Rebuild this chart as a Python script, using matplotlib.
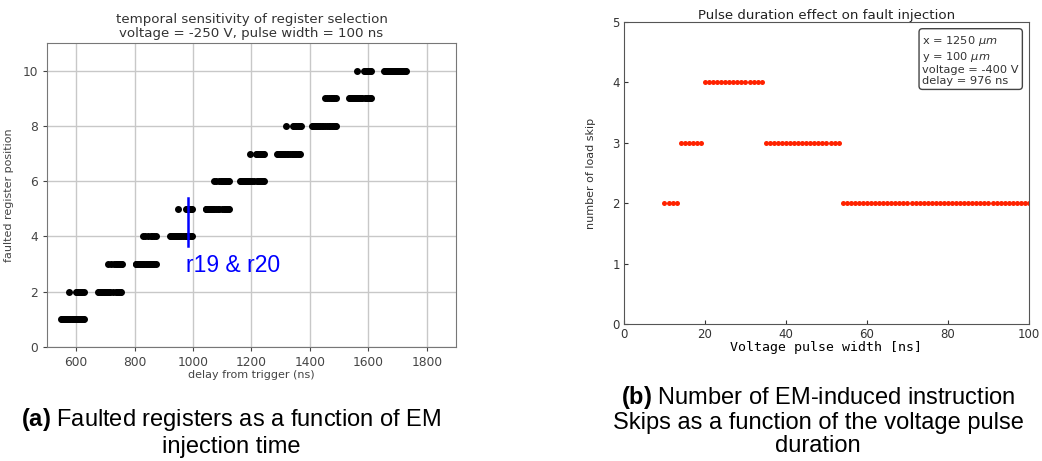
import numpy as np
import matplotlib
matplotlib.use("Agg")
import matplotlib.pyplot as plt

plt.rcParams['font.family'] = ['DejaVu Sans']
plt.rcParams['mathtext.fontset'] = 'custom'
plt.rcParams['mathtext.rm'] = 'Liberation Sans'
plt.rcParams['mathtext.bf'] = 'Liberation Sans:bold'
plt.rcParams['mathtext.it'] = 'DejaVu Sans:italic'

# (a) delay from trigger (ns) for each faulted register position
delays = {
    1: [548, 551, 554, 557, 560, 563, 566, 569, 572, 575, 578, 586, 589, 592, 595,
        598, 601, 604, 607, 610, 613, 616, 619, 622, 626],
    2: [574, 600, 603, 606, 609, 612, 615, 618, 621, 625, 676, 679, 682, 685, 688,
        691, 694, 697, 700, 703, 706, 709, 712, 716, 726, 737, 741, 744, 747, 750, 754],
    3: [709, 718, 728, 737, 740, 743, 746, 749, 752, 756, 803, 806, 809, 812, 815,
        818, 821, 824, 827, 832, 838, 843, 846, 849, 852, 855, 858, 861, 864, 868, 872],
    4: [827, 836, 846, 855, 860, 866, 872, 922, 925, 928, 931, 934, 937, 940, 944,
        948, 952, 956, 960, 966, 972, 975, 980, 986, 992, 998],
    5: [949, 975, 978, 981, 984, 988, 992, 996, 1043, 1046, 1049, 1052, 1055, 1058,
        1061, 1064, 1067, 1072, 1078, 1084, 1090, 1100, 1106, 1110, 1113, 1116, 1120, 1124],
    6: [1070, 1080, 1090, 1096, 1099, 1102, 1105, 1108, 1111, 1114, 1118, 1122, 1162,
        1165, 1168, 1171, 1174, 1177, 1180, 1183, 1186, 1190, 1196, 1202, 1210, 1218,
        1222, 1226, 1229, 1232, 1236, 1240, 1244],
    7: [1194, 1216, 1220, 1224, 1228, 1232, 1236, 1240, 1244, 1288, 1291, 1294, 1297,
        1300, 1303, 1306, 1309, 1312, 1315, 1320, 1326, 1332, 1338, 1342, 1346, 1350,
        1354, 1358, 1362, 1366],
    8: [1318, 1342, 1346, 1350, 1354, 1358, 1362, 1366, 1370, 1408, 1411, 1414, 1417,
        1420, 1423, 1426, 1429, 1432, 1436, 1440, 1446, 1452, 1460, 1466, 1470, 1474,
        1478, 1482, 1486, 1490],
    9: [1452, 1460, 1466, 1472, 1476, 1480, 1484, 1488, 1533, 1536, 1539, 1542, 1545,
        1548, 1551, 1554, 1557, 1560, 1563, 1566, 1570, 1574, 1580, 1588, 1592, 1596,
        1600, 1604, 1608],
    10: [1560, 1584, 1588, 1592, 1596, 1600, 1604, 1608, 1654, 1657, 1660, 1663, 1666,
         1669, 1672, 1675, 1678, 1681, 1684, 1687, 1690, 1693, 1696, 1699, 1702, 1705,
         1708, 1711, 1714, 1717, 1720, 1723, 1726, 1730],
}

# (b) number of load skips per voltage pulse width (ns)
pulse_width = [10, 11, 12, 13,
               14, 15, 16, 17, 18, 19,
               20, 21, 22, 23, 24, 25, 26, 27, 28, 29, 30, 31, 32, 33, 34,
               35, 36, 37, 38, 39, 40, 41, 42, 43, 44, 45, 46, 47, 48, 49, 50, 51, 52, 53,
               54, 55, 56, 57, 58, 59, 60, 61, 62, 63, 64, 65, 66, 67, 68, 69, 70, 71, 72, 73,
               74, 75, 76, 77, 78, 79, 80, 81, 82, 83, 84, 85, 86, 87, 88, 89, 90, 91, 92, 93,
               94, 95, 96, 97, 98, 99, 100]
load_skip = [2, 2, 2, 2,
             3, 3, 3, 3, 3, 3,
             4, 4, 4, 4, 4, 4, 4, 4, 4, 4, 4, 4, 4, 4, 4,
             3, 3, 3, 3, 3, 3, 3, 3, 3, 3, 3, 3, 3, 3, 3, 3, 3, 3, 3,
             2, 2, 2, 2, 2, 2, 2, 2, 2, 2, 2, 2, 2, 2, 2, 2, 2, 2, 2, 2,
             2, 2, 2, 2, 2, 2, 2, 2, 2, 2, 2, 2, 2, 2, 2, 2, 2, 2, 2, 2,
             2, 2, 2, 2, 2, 2, 2]

fig = plt.figure(figsize=(10.42, 4.61), dpi=100)

# ---- left panel
ax1 = fig.add_axes([0.0451, 0.2473, 0.3925, 0.6594])
for reg, xs in delays.items():
    ax1.plot(xs, [reg] * len(xs), 'o', color='black', markersize=4, zorder=3)
ax1.plot([983, 983], [3.67, 5.39], color='blue', lw=1.8, zorder=4)
ax1.text(975, 2.95, 'r19 & r20', color='blue', fontsize=16.5, family='Liberation Sans',
         va='center', ha='left')
ax1.set_xlim(500, 1900)
ax1.set_ylim(0, 11)
ax1.set_xticks([600, 800, 1000, 1200, 1400, 1600, 1800])
ax1.set_yticks([0, 2, 4, 6, 8, 10])
ax1.grid(True, color='#c8c8c8', lw=1)
ax1.set_axisbelow(True)
for s in ax1.spines.values():
    s.set_color('#777777')
ax1.tick_params(labelsize=8.8, colors='#444444', length=3)
ax1.set_title('temporal sensitivity of register selection\nvoltage = -250 V, pulse width = 100 ns',
              fontsize=9.6, color='#333333', linespacing=1.15, pad=4)
ax1.set_xlabel('delay from trigger (ns)', fontsize=8, color='#444444', labelpad=1)
ax1.set_ylabel('faulted register position', fontsize=8, color='#444444', labelpad=6)

# ---- right panel
ax2 = fig.add_axes([0.5988, 0.2972, 0.3887, 0.655])
ax2.plot(pulse_width, load_skip, 'o', color='#ff2200', markersize=3.6, markeredgewidth=0)
ax2.set_xlim(0, 100)
ax2.set_ylim(0, 5)
ax2.set_xticks([0, 20, 40, 60, 80, 100])
ax2.set_yticks([0, 1, 2, 3, 4, 5])
ax2.tick_params(direction='in', labelsize=8.5, colors='#333333', length=3, pad=3)
for s in ax2.spines.values():
    s.set_color('#555555')
ax2.set_title('Pulse duration effect on fault injection', fontsize=9.6, color='#222222', pad=2)
ax2.set_xlabel('Voltage pulse width [ns]', fontsize=9.5, family='DejaVu Sans Mono', labelpad=0)
ax2.set_ylabel('number of load skip', fontsize=8, color='#333333', labelpad=12)
ax2.text(0.737, 0.96, 'x = 1250 $\\mu m$\ny = 100 $\\mu m$\nvoltage = -400 V\ndelay = 976 ns',
         transform=ax2.transAxes, fontsize=8.2, va='top', ha='left', linespacing=1.15,
         color='#333333',
         bbox=dict(boxstyle='round,pad=0.3,rounding_size=0.3', fc='white', ec='#444444', lw=1))

# ---- captions
fig.text(0.222, 0.063, '$\\mathbf{(a)}$ Faulted registers as a function of EM\ninjection time',
         fontsize=17, family='Liberation Sans', ha='center', va='center', linespacing=1.17)
fig.text(0.785, 0.088, '$\\mathbf{(b)}$ Number of EM-induced instruction\nSkips as a function of the voltage pulse\nduration',
         fontsize=17, family='Liberation Sans', ha='center', va='center', linespacing=1.08)

fig.savefig('out.png', dpi=100)
